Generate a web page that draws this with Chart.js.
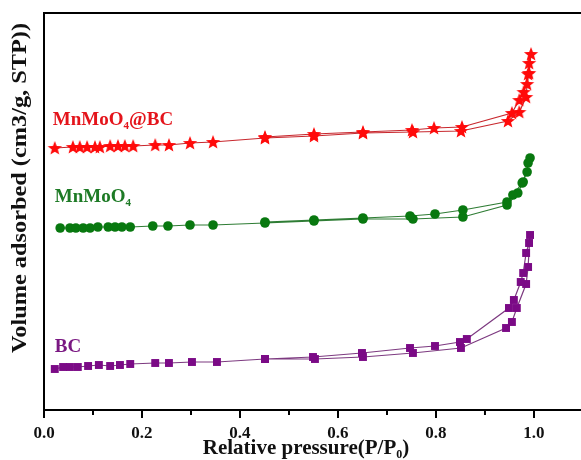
<!DOCTYPE html>
<html><head><meta charset="utf-8">
<script src="https://cdn.jsdelivr.net/npm/chart.js@4.4.0/dist/chart.umd.min.js"></script>
<style>html,body{margin:0;padding:0;background:#fff;}#wrap{width:581px;height:460px;position:relative;}</style>
</head><body><div id="wrap"><canvas id="c" width="581" height="460"></canvas></div>
<script>
// ---- data (P/P0 vs volume adsorbed, arbitrary offset units) ----
const BC_ADS_P = [0.022,0.039,0.053,0.069,0.090,0.112,0.135,0.155,0.176,0.227,0.255,0.302,0.353,0.451,0.553,0.651,0.753,0.851,0.943,0.955,0.965,0.984,0.988,0.992];
const BC_ADS_V = [41,43,43,43,44,45,44,45,46,47,47,48,48,51,51,53,57,62,82,88,102,126,143,175];
const BC_DES_P = [0.990,0.984,0.978,0.973,0.959,0.949,0.863,0.849,0.798,0.747,0.649,0.549,0.451];
const BC_DES_V = [167,157,137,128,110,102,71,68,64,62,57,53,51];

const MN_ADS_P = [0.033,0.053,0.065,0.080,0.094,0.110,0.131,0.145,0.159,0.176,0.222,0.253,0.298,0.345,0.451,0.551,0.651,0.753,0.855,0.945,0.967,0.978,0.992];
const MN_ADS_V = [182,182,182,182,182,183,183,183,183,183,184,184,185,185,187,189,191,191,193,205,217,228,252];
const MN_DES_P = [0.988,0.986,0.976,0.957,0.945,0.855,0.798,0.747,0.651,0.551,0.451];
const MN_DES_V = [247,238,227,215,208,200,196,194,192,190,188];

const MB_ADS_P = [0.022,0.059,0.073,0.088,0.104,0.114,0.135,0.151,0.165,0.182,0.227,0.255,0.298,0.345,0.451,0.551,0.651,0.753,0.851,0.947,0.970,0.984,0.986,0.990,0.994];
const MB_ADS_V = [262,263,263,263,263,263,264,264,264,264,265,265,267,268,272,274,277,278,279,289,298,313,326,337,356];
const MB_DES_P = [0.990,0.988,0.979,0.970,0.955,0.853,0.796,0.751,0.651,0.551,0.451];
const MB_DES_V = [347,336,318,310,297,283,282,280,278,276,273];

const X_TICKS = [0.0,0.2,0.4,0.6,0.8,1.0];
const X_MINOR = [0.1,0.3,0.5,0.7,0.9];
const LABELS = [
  {main:'MnMoO', sub:'4', tail:'@BC', color:'#e4141b', x:0.018, y:285},
  {main:'MnMoO', sub:'4', tail:'', color:'#1d7a25', x:0.022, y:208},
  {main:'BC', sub:'', tail:'', color:'#7a1882', x:0.022, y:58}
];

function pts(p1,v1,p2,v2){
  const a=[]; for(let i=0;i<p1.length;i++)a.push({x:p1[i],y:v1[i]});
  for(let i=0;i<p2.length;i++)a.push({x:p2[i],y:v2[i]});
  return a;
}
function starCanvas(color){
  const c=document.createElement('canvas'); c.width=16;c.height=16;
  const g=c.getContext('2d'); g.fillStyle=color; g.beginPath();
  for(let i=0;i<10;i++){
    const r=i%2===0?7.5:3.2; const a=-Math.PI/2+i*Math.PI/5;
    const x=8+r*Math.cos(a), y=8.5+r*Math.sin(a);
    if(i===0)g.moveTo(x,y);else g.lineTo(x,y);
  }
  g.closePath(); g.fill(); return c;
}

const SERIF = "'Liberation Serif','DejaVu Serif',serif";

const decor = {
  id:'decor',
  afterDraw(chart){
    const ctx=chart.ctx, ca=chart.chartArea, xs=chart.scales.x, ys=chart.scales.y;
    ctx.save();
    // top frame line
    ctx.strokeStyle='#000'; ctx.lineWidth=2;
    ctx.beginPath(); ctx.moveTo(ca.left-1, ca.top); ctx.lineTo(chart.width, ca.top); ctx.stroke();
    // minor ticks
    X_MINOR.forEach(v=>{const px=xs.getPixelForValue(v);
      ctx.beginPath(); ctx.moveTo(px, ca.bottom); ctx.lineTo(px, ca.bottom+5); ctx.stroke();});
    // x title with subscript
    ctx.fillStyle='#111'; ctx.textBaseline='alphabetic';
    ctx.font='bold 21px '+SERIF;
    const t1='Relative pressure(P/P', t2='0', t3=')';
    const w1=ctx.measureText(t1).width, w3=ctx.measureText(t3).width;
    ctx.font='bold 12px '+SERIF; const w2=ctx.measureText(t2).width;
    let x0=306-(w1+w2+w3)/2, yb=454;
    ctx.font='bold 21px '+SERIF; ctx.fillText(t1,x0,yb);
    ctx.font='bold 12px '+SERIF; ctx.fillText(t2,x0+w1,yb+4);
    ctx.font='bold 21px '+SERIF; ctx.fillText(t3,x0+w1+w2,yb);
    // y title, stretched to the reference length
    ctx.save(); ctx.translate(26,188); ctx.rotate(-Math.PI/2);
    ctx.font='bold 20px '+SERIF; ctx.textAlign='center';
    const yt='Volume adsorbed (cm3/g, STP))';
    const yw=ctx.measureText(yt).width;
    ctx.scale(330/yw,1);
    ctx.fillText(yt,0,0);
    ctx.restore();
    // series labels
    LABELS.forEach(L=>{
      let px=xs.getPixelForValue(L.x), py=ys.getPixelForValue(L.y);
      ctx.fillStyle=L.color; ctx.textAlign='left';
      ctx.font='bold 19px '+SERIF; ctx.fillText(L.main,px,py);
      let w=ctx.measureText(L.main).width;
      if(L.sub){ctx.font='bold 11px '+SERIF; ctx.fillText(L.sub,px+w,py+4); w+=ctx.measureText(L.sub).width;}
      if(L.tail){ctx.font='bold 19px '+SERIF; ctx.fillText(L.tail,px+w,py);}
    });
    ctx.restore();
  }
};

new Chart(document.getElementById('c'),{
  type:'scatter',
  data:{datasets:[
    {label:'MnMoO4@BC', data:pts(MB_ADS_P,MB_ADS_V,MB_DES_P,MB_DES_V), showLine:true,
     borderColor:'#c8282e', borderWidth:1.2, pointStyle:starCanvas('#ff0a0a'), pointRadius:7},
    {label:'MnMoO4', data:pts(MN_ADS_P,MN_ADS_V,MN_DES_P,MN_DES_V), showLine:true,
     borderColor:'#2f7d35', borderWidth:1.2, pointStyle:'circle', pointRadius:4.8,
     backgroundColor:'#08780f', pointBorderColor:'#08780f', pointBorderWidth:0},
    {label:'BC', data:pts(BC_ADS_P,BC_ADS_V,BC_DES_P,BC_DES_V), showLine:true,
     borderColor:'#7d3a80', borderWidth:1.2, pointStyle:'rect', pointRadius:5.6,
     backgroundColor:'#7b0a86', pointBorderColor:'#7b0a86', pointBorderWidth:0}
  ]},
  options:{
    responsive:false, animation:false,
    layout:{autoPadding:false, padding:{top:13,right:0,left:0,bottom:0}},
    plugins:{legend:{display:false},tooltip:{enabled:false}},
    scales:{
      x:{type:'linear', min:0, max:1.096,
        afterBuildTicks(s){s.ticks=X_TICKS.map(v=>({value:v}));},
        afterFit(s){s.height=50;},
        ticks:{color:'#111', font:{family:SERIF, size:17, weight:'bold'}, padding:5,
          callback:(v)=>v.toFixed(1), maxRotation:0},
        grid:{display:true, drawOnChartArea:false, tickLength:8, lineWidth:2, color:'#000'},
        border:{display:true, width:2, color:'#000'}
      },
      y:{type:'linear', min:0, max:397,
        afterFit(s){s.width=44;},
        ticks:{display:false},
        grid:{display:false},
        border:{display:true, width:2, color:'#000'}
      }
    }
  },
  plugins:[decor]
});
</script></body></html>
